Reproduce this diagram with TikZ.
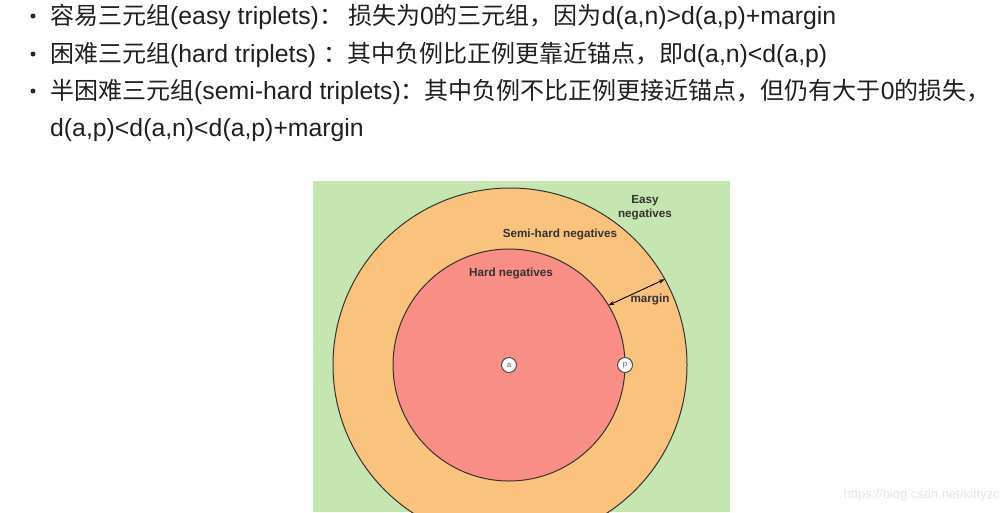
\documentclass[tikz,border=0pt]{standalone}
\usepackage{fontspec}
\setmainfont{Liberation Sans}
\newfontfamily\cjk{Noto Sans CJK SC}
\newcommand\zh[1]{{\cjk\fontsize{24}{28}\selectfont #1}}
\usetikzlibrary{arrows.meta}
\definecolor{bggreen}{HTML}{C5E5B1}
\definecolor{semiorange}{HTML}{FAC37D}
\definecolor{hardred}{HTML}{F88E85}
\definecolor{labelgray}{HTML}{333333}
\definecolor{wmgray}{HTML}{E4E4E4}
\tikzset{
  line/.style={anchor=base west, inner sep=0pt, font=\fontsize{24.8}{28}\selectfont, text=black!88},
  bulletdot/.style={circle, fill=black!85, minimum size=5pt, inner sep=0pt},
  ring/.style={circle, draw=labelgray, line width=1pt, inner sep=0pt, outer sep=0pt},
  lbl/.style={font=\fontsize{11.7}{13}\selectfont\bfseries, text=labelgray, inner sep=0pt},
  pt/.style={circle, draw=black!70, fill=white, line width=1pt, minimum size=15pt, inner sep=0pt, font=\fontsize{8}{9}\selectfont, text=black!60},
}
\begin{document}
\begin{tikzpicture}[x=1pt,y=-1pt]
\useasboundingbox (0,0) rectangle (1008,512);
% bullet list
\node[bulletdot] (b1) at (33,16) {};
\node[bulletdot] (b2) at (33,54) {};
\node[bulletdot] (b3) at (33,91) {};
\node[line] (l1) at (50,24) {\zh{容易三元组}(easy triplets)\zh{：}\hspace{5pt}\zh{损失为}0\zh{的三元组，因为}d(a,n)>d(a,p)+margin};
\node[line] (l2) at (50,62) {\zh{困难三元组}(hard triplets) \zh{：其中负例比正例更靠近锚点，即}d(a,n)<d(a,p)};
\node[line] (l3) at (50,99.5) {\zh{半困难三元组}(semi-hard triplets)\zh{：其中负例不比正例更接近锚点，但仍有大于}0\zh{的损失，}};
\node[line] (l4) at (50,136.5) {d(a,p)<d(a,n)<d(a,p)+margin};
% diagram
\fill[bggreen] (313,181) rectangle (730,512);
\begin{scope}
\clip (313,181) rectangle (730,512);
\node[ring, fill=semiorange, minimum size=354pt] (outer) at (510,365) {};
\node[ring, fill=hardred, minimum size=232pt] (inner) at (509,365) {};
\end{scope}
\draw[{Stealth[length=6pt,width=4pt]}-{Stealth[length=6pt,width=4pt]}, line width=0.9pt] (inner.31) -- (outer.29);
\node[pt] (a) at (inner.center) {a};
\node[pt] (p) at (inner.east) {p};
\node[lbl] (hard) at (511,273) {Hard negatives};
\node[lbl] (semi) at (560,234) {Semi-hard negatives};
\node[lbl, align=center, font=\fontsize{11.7}{14}\selectfont\bfseries] (easy) at (645,208) {Easy\\negatives};
\node[lbl] (margin) at (650,299) {margin};
% watermark
\node[anchor=base east, inner sep=0pt, text=wmgray, font=\fontsize{13}{15}\selectfont] (wm) at (1000,498) {https://blog.csdn.net/kittyzc};
\end{tikzpicture}
\end{document}
